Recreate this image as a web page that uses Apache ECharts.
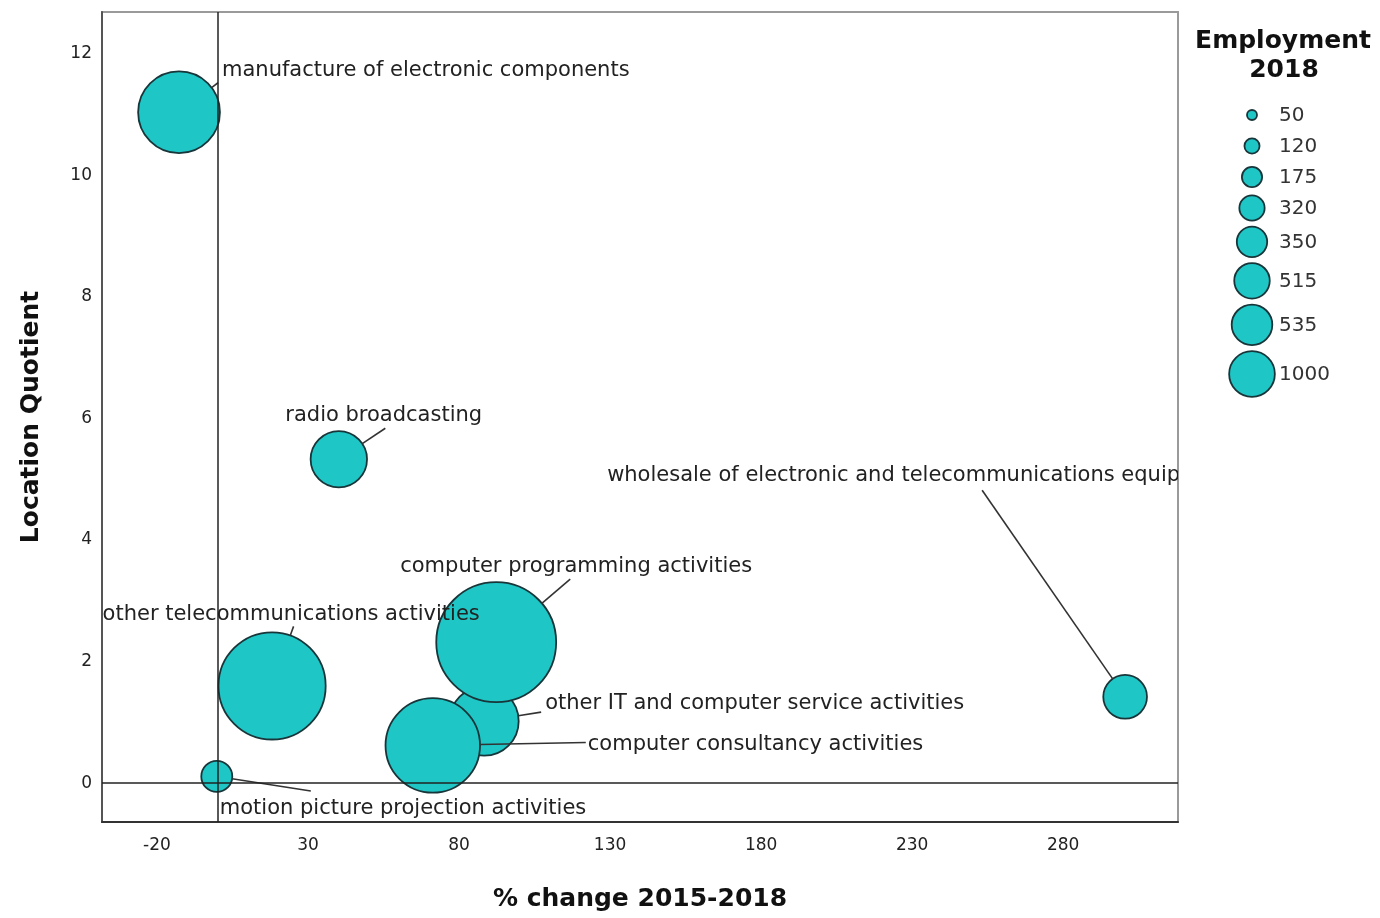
<!DOCTYPE html>
<html><head><meta charset="utf-8">
<script src="https://cdn.jsdelivr.net/npm/echarts@6/dist/echarts.min.js"></script>
<style>html,body{margin:0;padding:0;background:#fff}#c{width:1380px;height:918px}</style>
</head><body><div id="c"></div>
<script>
// ---- data ----
const industries = [
  'manufacture of electronic components',
  'radio broadcasting',
  'wholesale of electronic and telecommunications equipment and parts',
  'other telecommunications activities',
  'other IT and computer service activities',
  'computer programming activities',
  'computer consultancy activities',
  'motion picture projection activities'
];
const pctChange = [-12.7, 40.2, 300.5, 18.1, 88.3, 92.3, 71.3, -0.2];
const locationQuotient = [11.04, 5.33, 1.42, 1.60, 1.02, 2.32, 0.62, 0.11];
const employment2018 = [350, 175, 120, 535, 320, 1000, 515, 50];
const xTickValues = [-20, 30, 80, 130, 180, 230, 280];
const yTickValues = [0, 2, 4, 6, 8, 10, 12];

// ---- styles ----
const FONT = '"DejaVu Sans", "Liberation Sans", sans-serif';
const FILL = '#1fc6c6';
const EDGE = '#18363a';
// label text offset (tx,ty) and leader-line end offset (lx,ly), px from bubble centre
const labelPlacement = {
  'manufacture of electronic components': {tx: 43, ty: -42, lx: 39, ly: -29.5},
  'radio broadcasting': {tx: -53.5, ty: -44, lx: 46.5, ly: -31},
  'wholesale of electronic and telecommunications equipment and parts': {tx: -518, ty: -221.5, lx: -143, ly: -206.5},
  'other telecommunications activities': {tx: -169.5, ty: -71.5, lx: 21.5, ly: -59.5},
  'other IT and computer service activities': {tx: 61, ty: -18, lx: 57, ly: -9},
  'computer programming activities': {tx: -96, ty: -76, lx: 74, ly: -63},
  'computer consultancy activities': {tx: 155, ty: -1, lx: 153, ly: -3},
  'motion picture projection activities': {tx: 3, ty: 32.5, lx: 94, ly: 14.5}
};
const sortedEmp = employment2018.slice().sort((a, b) => a - b);
function bubbleDiameter(v) { return 31 + 12.7 * sortedEmp.indexOf(v); }
function legendDiameter(v) { return 10 + 5.1 * sortedEmp.indexOf(v); }

const seriesData = industries.map((n, i) => ({name: n, value: [pctChange[i], locationQuotient[i], employment2018[i]]}));

// legend graphics
const legendEls = [{
  type: 'text', x: 1283, y: 41,
  style: {text: 'Employment', font: 'bold 25px ' + FONT, fill: '#111', textAlign: 'center', textVerticalAlign: 'middle'}
}, {
  type: 'text', x: 1284, y: 70,
  style: {text: '2018', font: 'bold 25px ' + FONT, fill: '#111', textAlign: 'center', textVerticalAlign: 'middle'}
}];
let ly = 115, prevD = null;
sortedEmp.forEach((v, i) => {
  const d = legendDiameter(v);
  if (prevD !== null) ly += Math.max(31, (prevD + d) / 2 + 6);
  prevD = d;
  legendEls.push({type: 'circle', shape: {cx: 1252, cy: ly, r: d / 2}, style: {fill: FILL, stroke: EDGE, lineWidth: 1.8}});
  legendEls.push({type: 'text', x: 1279, y: ly + 1, style: {text: String(v), font: '20px ' + FONT, fill: '#333', textAlign: 'left', textVerticalAlign: 'middle'}});
});

const chart = echarts.init(document.getElementById('c'), null, {renderer: 'canvas'});
chart.setOption({
  backgroundColor: '#fff',
  animation: false,
  grid: {left: 102, right: 202, top: 12, bottom: 96, show: true, borderColor: '#9a9a9a', borderWidth: 2, backgroundColor: 'transparent'},
  xAxis: {
    type: 'value', min: -38.2, max: 318,
    name: '% change 2015-2018', nameLocation: 'middle', nameGap: 65,
    nameTextStyle: {fontFamily: FONT, fontWeight: 'bold', fontSize: 25, color: '#111'},
    axisLine: {show: true, onZero: false, lineStyle: {color: '#333', width: 2}},
    axisTick: {show: false},
    splitLine: {show: false},
    axisLabel: {customValues: xTickValues, fontFamily: FONT, fontSize: 17, color: '#222', margin: 15}
  },
  yAxis: {
    type: 'value', min: -0.64, max: 12.69,
    name: 'Location Quotient', nameLocation: 'middle', nameGap: 58,
    nameTextStyle: {fontFamily: FONT, fontWeight: 'bold', fontSize: 25, color: '#111'},
    axisLine: {show: true, onZero: false, lineStyle: {color: '#555', width: 2}},
    axisTick: {show: false},
    splitLine: {show: false},
    axisLabel: {customValues: yTickValues, fontFamily: FONT, fontSize: 17, color: '#222', margin: 10}
  },
  graphic: legendEls,
  series: [{
    type: 'custom',
    clip: true,
    z: 2,
    data: seriesData,
    encode: {x: 0, y: 1},
    renderItem: function (params, api) {
      const i = params.dataIndex;
      const name = industries[i];
      const c = api.coord([api.value(0), api.value(1)]);
      const r = bubbleDiameter(api.value(2)) / 2;
      const p = labelPlacement[name];
      const len = Math.hypot(p.lx, p.ly);
      return {
        type: 'group',
        children: [
          {type: 'circle', z2: i, shape: {cx: c[0], cy: c[1], r: r}, style: {fill: FILL, stroke: EDGE, lineWidth: 1.8}},
          {type: 'line', z2: 100, shape: {x1: c[0] + p.lx / len * r, y1: c[1] + p.ly / len * r, x2: c[0] + p.lx, y2: c[1] + p.ly},
            style: {stroke: '#333', lineWidth: 1.6}},
          {type: 'text', z2: 200, x: c[0] + p.tx, y: c[1] + p.ty,
            style: {text: name, font: '21px ' + FONT, fill: '#222', textAlign: 'left', textVerticalAlign: 'middle'}}
        ]
      };
    }
  }, {
    type: 'scatter', data: [], z: 5, silent: true,
    markLine: {
      silent: true, symbol: 'none', label: {show: false},
      lineStyle: {color: '#222', width: 1.5, type: 'solid'},
      data: [{xAxis: 0}, {yAxis: 0}]
    }
  }]
});
</script>
</body></html>
